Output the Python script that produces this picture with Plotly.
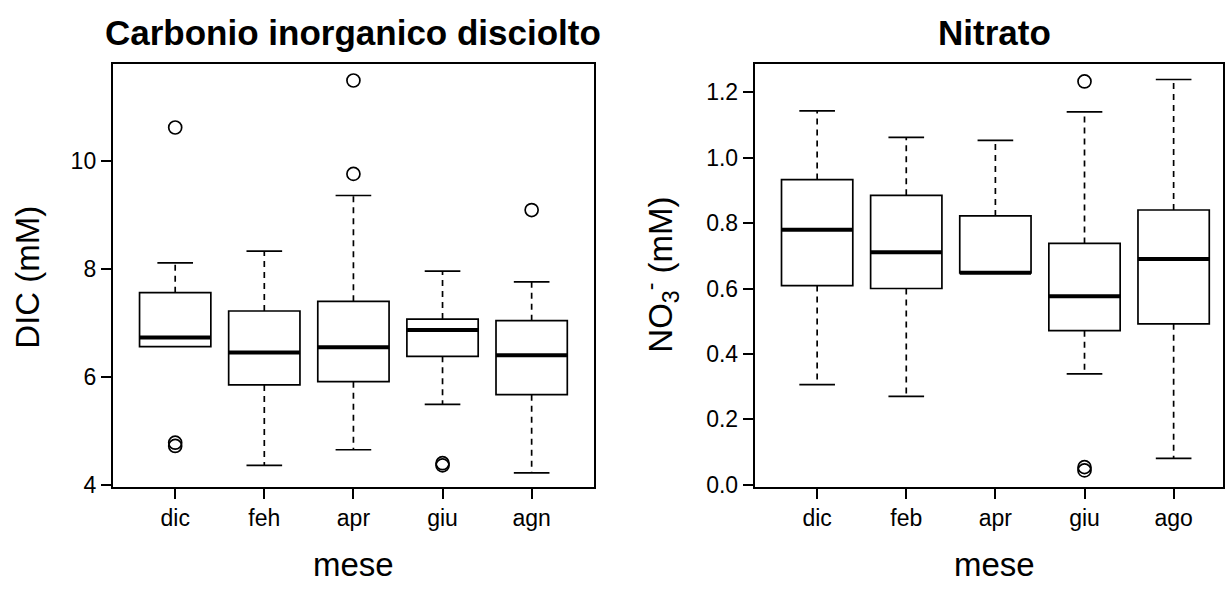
import plotly.graph_objects as go

# ---------------- data ----------------
left_months = ["dic", "feh", "apr", "giu", "agn"]
right_months = ["dic", "feb", "apr", "giu", "ago"]

# DIC (mM)
dic_low = [6.56, 4.36, 4.65, 5.49, 4.22]
dic_q1 = [6.56, 5.85, 5.91, 6.38, 5.67]
dic_med = [6.73, 6.45, 6.55, 6.87, 6.40]
dic_q3 = [7.56, 7.22, 7.40, 7.07, 7.04]
dic_high = [8.11, 8.33, 9.36, 7.96, 7.76]
dic_out_pos = [1, 1, 1, 3, 3, 4, 4, 5]
dic_out_val = [10.62, 4.72, 4.78, 11.49, 9.76, 4.36, 4.40, 9.09]

# Nitrato (mM)
no3_low = [0.306, 0.27, 0.648, 0.339, 0.081]
no3_q1 = [0.609, 0.60, 0.648, 0.471, 0.492]
no3_med = [0.78, 0.711, 0.648, 0.576, 0.69]
no3_q3 = [0.933, 0.885, 0.822, 0.738, 0.84]
no3_high = [1.143, 1.062, 1.053, 1.14, 1.239]
no3_out_pos = [4, 4, 4]
no3_out_val = [1.233, 0.044, 0.054]

dic_ticks = [4, 6, 8, 10]
no3_ticks = [0.0, 0.2, 0.4, 0.6, 0.8, 1.0, 1.2]

FONT = "Liberation Sans, Arial, Helvetica, sans-serif"
HALF_BOX = 0.4
HALF_CAP = 0.2
LW = 1.7

fig = go.Figure()


def add_panel(xa, ya, low, q1, med, q3, high, out_pos, out_val):
    pos = list(range(1, len(med) + 1))
    for i, p in enumerate(pos):
        fig.add_trace(go.Box(
            x=[p], q1=[q1[i]], median=[med[i]], q3=[q3[i]],
            lowerfence=[q1[i]], upperfence=[q3[i]],
            width=2 * HALF_BOX, whiskerwidth=0,
            fillcolor="white", line=dict(color="black", width=LW),
            xaxis=xa, yaxis=ya, showlegend=False, hoverinfo="skip",
        ))
    wx, wy, cx, cy, mx, my = [], [], [], [], [], []
    for i, p in enumerate(pos):
        if high[i] > q3[i]:
            wx += [p, p, None]
            wy += [q3[i], high[i], None]
            cx += [p - HALF_CAP, p + HALF_CAP, None]
            cy += [high[i], high[i], None]
        if low[i] < q1[i]:
            wx += [p, p, None]
            wy += [q1[i], low[i], None]
            cx += [p - HALF_CAP, p + HALF_CAP, None]
            cy += [low[i], low[i], None]
        mx += [p - HALF_BOX, p + HALF_BOX, None]
        my += [med[i], med[i], None]
    fig.add_trace(go.Scatter(x=wx, y=wy, mode="lines", xaxis=xa, yaxis=ya,
                             line=dict(color="black", width=LW, dash="6px,5px"),
                             showlegend=False, hoverinfo="skip"))
    fig.add_trace(go.Scatter(x=cx, y=cy, mode="lines", xaxis=xa, yaxis=ya,
                             line=dict(color="black", width=LW),
                             showlegend=False, hoverinfo="skip"))
    fig.add_trace(go.Scatter(x=mx, y=my, mode="lines", xaxis=xa, yaxis=ya,
                             line=dict(color="black", width=4),
                             showlegend=False, hoverinfo="skip"))
    fig.add_trace(go.Scatter(x=out_pos, y=out_val, mode="markers", xaxis=xa, yaxis=ya,
                             marker=dict(symbol="circle-open", size=13,
                                         color="black", line=dict(width=1.7)),
                             showlegend=False, hoverinfo="skip"))


add_panel("x", "y", dic_low, dic_q1, dic_med, dic_q3, dic_high, dic_out_pos, dic_out_val)
add_panel("x2", "y2", no3_low, no3_q1, no3_med, no3_q3, no3_high, no3_out_pos, no3_out_val)

W, H = 1225, 590
ydom = [94 / H, 525 / H]

axis_common = dict(showline=True, mirror=True, linecolor="black", linewidth=2,
                   ticks="outside", ticklen=10, tickwidth=1.5, tickcolor="black",
                   showgrid=False, zeroline=False,
                   tickfont=dict(family=FONT, size=23, color="black"))

fig.update_layout(
    width=W, height=H,
    margin=dict(l=0, r=0, t=0, b=0),
    paper_bgcolor="white", plot_bgcolor="white",
    xaxis=dict(domain=[113 / W, 595 / W], range=[0.3, 5.7],
               tickvals=[1, 2, 3, 4, 5], ticktext=left_months, anchor="y",
               **axis_common),
    yaxis=dict(domain=ydom, range=[3.964, 11.8], tickvals=dic_ticks,
               ticktext=[str(t) for t in dic_ticks], anchor="x", **axis_common),
    xaxis2=dict(domain=[756 / W, 1.0], range=[0.3, 5.554],
                tickvals=[1, 2, 3, 4, 5], ticktext=right_months, anchor="y2",
                **axis_common),
    yaxis2=dict(domain=ydom, range=[-0.006, 1.287], tickvals=no3_ticks,
                ticktext=[f"{t:.1f}" for t in no3_ticks], anchor="x2", **axis_common),
)

ann = [
    dict(text="<b>Carbonio inorganico disciolto</b>", x=354 / W, y=1 - 33 / H,
         font=dict(size=35)),
    dict(text="<b>Nitrato</b>", x=996 / W, y=1 - 33 / H, font=dict(size=35)),
    dict(text="mese", x=354 / W, y=1 - 575 / H, font=dict(size=33)),
    dict(text="mese", x=996 / W, y=1 - 575 / H, font=dict(size=33)),
    dict(text="DIC (mM)", x=28 / W, y=1 - 282 / H, textangle=-90, font=dict(size=33)),
    dict(text="NO<sub>3</sub><sup>-</sup> (mM)", x=662 / W, y=1 - 280 / H,
         textangle=-90, font=dict(size=33)),
]
for a in ann:
    a.update(xref="paper", yref="paper", showarrow=False,
             xanchor="center", yanchor="middle")
    a["font"].update(family=FONT, color="black")
fig.update_layout(annotations=ann)

fig.write_html("out.html")
